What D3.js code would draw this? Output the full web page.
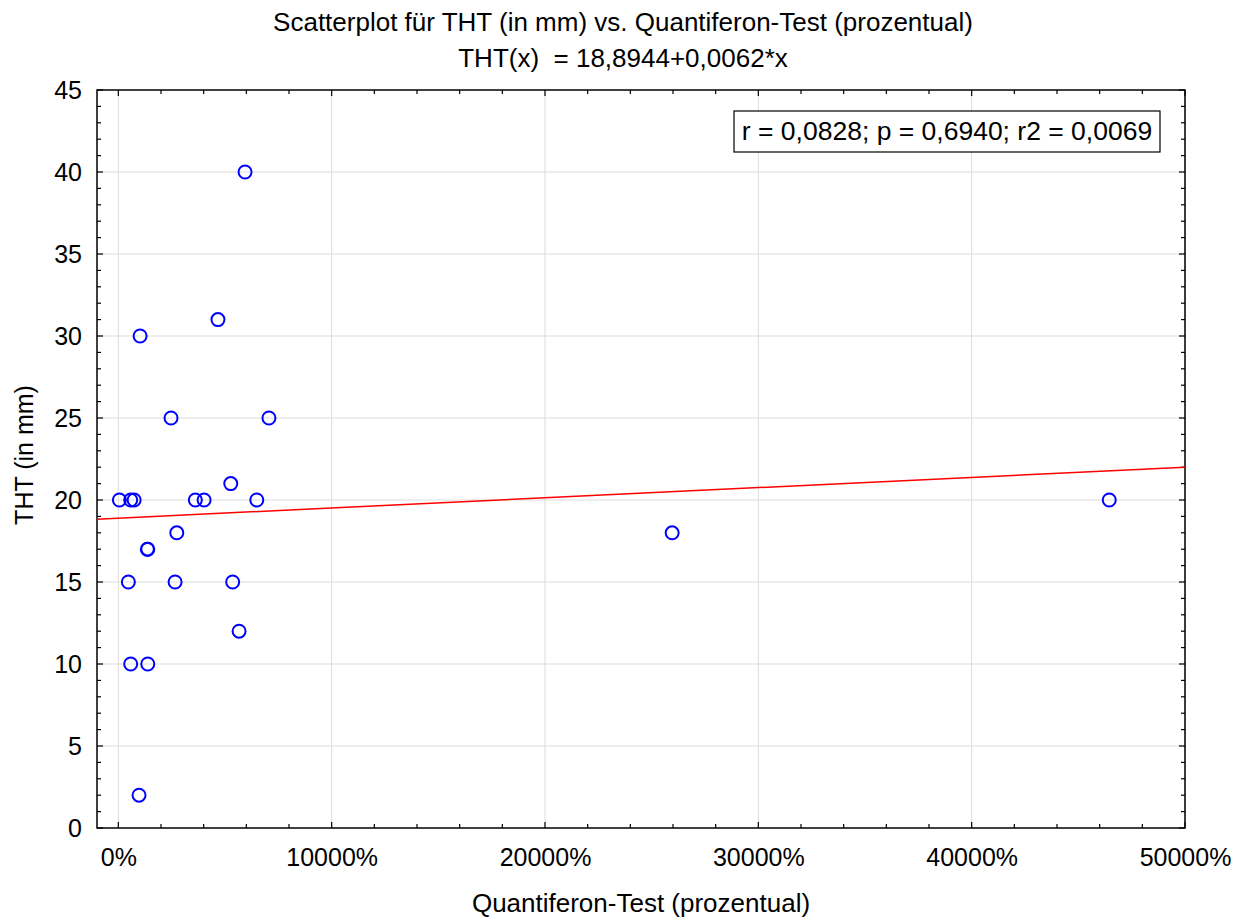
<!DOCTYPE html>
<html>
<head>
<meta charset="utf-8">
<script src="https://cdn.jsdelivr.net/npm/d3@7"></script>
<style>
  body { margin: 0; background: #fff; }
  text { font-family: "Liberation Sans", Arial, sans-serif; fill: #000; }
</style>
</head>
<body>
<div id="chart"></div>
<script>
// data: Quantiferon-Test as fraction (shown as percent), THT in mm
var quantiferon = [59.4, 46.7, 10.2, 24.7, 70.6, 52.7, 0.5, 5.8, 7.4, 36.1, 40.2, 64.9,
                   27.4, 13.6, 13.8, 4.7, 26.6, 53.6, 56.6, 5.8, 13.8, 9.7, 259.6, 464.5];
var tht = [40, 31, 30, 25, 25, 21, 20, 20, 20, 20, 20, 20,
           18, 17, 17, 15, 15, 15, 12, 10, 10, 2, 18, 20];
var xTicks = [0, 100, 200, 300, 400, 500];
var yTicks = [0, 5, 10, 15, 20, 25, 30, 35, 40, 45];
var intercept = 18.8944, slope = 0.0062;
var statsLabel = "r = 0,0828; p = 0,6940; r2 = 0,0069";

var margin = {top: 90, right: 59, bottom: 94, left: 97};
var width = 1244 - margin.left - margin.right;
var height = 922 - margin.top - margin.bottom;

var x = d3.scaleLinear().domain([-10, 500]).range([0, width]);
var y = d3.scaleLinear().domain([0, 45]).range([height, 0]);

var svg = d3.select("#chart").append("svg")
    .attr("width", 1244)
    .attr("height", 922);

var g = svg.append("g")
    .attr("transform", "translate(" + margin.left + "," + margin.top + ")");

// grid lines
g.append("g").selectAll("line")
    .data(xTicks).enter().append("line")
    .attr("x1", function(d) { return x(d); })
    .attr("x2", function(d) { return x(d); })
    .attr("y1", 0).attr("y2", height)
    .attr("stroke", "#dcdcdc").attr("stroke-width", 1);
g.append("g").selectAll("line")
    .data(yTicks.slice(1, -1)).enter().append("line")
    .attr("y1", function(d) { return y(d); })
    .attr("y2", function(d) { return y(d); })
    .attr("x1", 0).attr("x2", width)
    .attr("stroke", "#dcdcdc").attr("stroke-width", 1);

// minor + major ticks on all four sides, pointing inside
var xMinor = d3.range(0, 501, 20);
var yMinor = d3.range(0, 46, 1);
function tickLen(isMajor) { return isMajor ? 6 : 4; }

var ticks = g.append("g").attr("stroke", "#000").attr("stroke-width", 1.2);
xMinor.forEach(function(d) {
    var L = tickLen(d % 100 === 0);
    ticks.append("line").attr("x1", x(d)).attr("x2", x(d)).attr("y1", height).attr("y2", height - L);
    ticks.append("line").attr("x1", x(d)).attr("x2", x(d)).attr("y1", 0).attr("y2", L);
});
yMinor.forEach(function(d) {
    var L = tickLen(d % 5 === 0);
    ticks.append("line").attr("y1", y(d)).attr("y2", y(d)).attr("x1", 0).attr("x2", L);
    ticks.append("line").attr("y1", y(d)).attr("y2", y(d)).attr("x1", width).attr("x2", width - L);
});

// frame
g.append("rect")
    .attr("width", width).attr("height", height)
    .attr("fill", "none").attr("stroke", "#000").attr("stroke-width", 1.5);

// tick labels via d3 axes
var fmt = d3.format(".0%");
var xAxis = g.append("g")
    .attr("transform", "translate(0," + height + ")")
    .call(d3.axisBottom(x).tickValues(xTicks).tickSize(0).tickPadding(20).tickFormat(fmt));
xAxis.select(".domain").remove();
xAxis.selectAll("text").style("font-size", "25px").style("font-family", "Liberation Sans, Arial, sans-serif");

var yAxis = g.append("g")
    .call(d3.axisLeft(y).tickValues(yTicks).tickSize(0).tickPadding(15));
yAxis.select(".domain").remove();
yAxis.selectAll("text").style("font-size", "25px").style("font-family", "Liberation Sans, Arial, sans-serif");

// regression line
g.append("line")
    .attr("x1", x(-10)).attr("y1", y(intercept + slope * -10))
    .attr("x2", x(500)).attr("y2", y(intercept + slope * 500))
    .attr("stroke", "#ff0000").attr("stroke-width", 1.5);

// points
g.selectAll("circle.pt")
    .data(quantiferon).enter().append("circle")
    .attr("class", "pt")
    .attr("cx", function(d) { return x(d); })
    .attr("cy", function(d, i) { return y(tht[i]); })
    .attr("r", 6.5)
    .attr("fill", "none")
    .attr("stroke", "#0000ff")
    .attr("stroke-width", 2);

// stats box
var box = g.append("g").attr("transform", "translate(637,21)");
box.append("rect").attr("width", 426).attr("height", 41)
    .attr("fill", "#fff").attr("stroke", "#000").attr("stroke-width", 1.2);
box.append("text").attr("x", 213).attr("y", 29)
    .attr("text-anchor", "middle").style("font-size", "26.5px").text(statsLabel);

// titles
svg.append("text").attr("x", 623).attr("y", 31).attr("text-anchor", "middle")
    .style("font-size", "26px").text("Scatterplot für THT (in mm) vs. Quantiferon-Test (prozentual)");
svg.append("text").attr("x", 623).attr("y", 67).attr("text-anchor", "middle")
    .style("font-size", "26px").style("white-space", "pre")
    .text("THT(x)  = 18,8944+0,0062*x");
svg.append("text").attr("x", 641).attr("y", 912).attr("text-anchor", "middle")
    .style("font-size", "26px").text("Quantiferon-Test (prozentual)");
svg.append("text").attr("transform", "translate(33,455) rotate(-90)").attr("text-anchor", "middle")
    .style("font-size", "25px").text("THT (in mm)");
</script>
</body>
</html>
